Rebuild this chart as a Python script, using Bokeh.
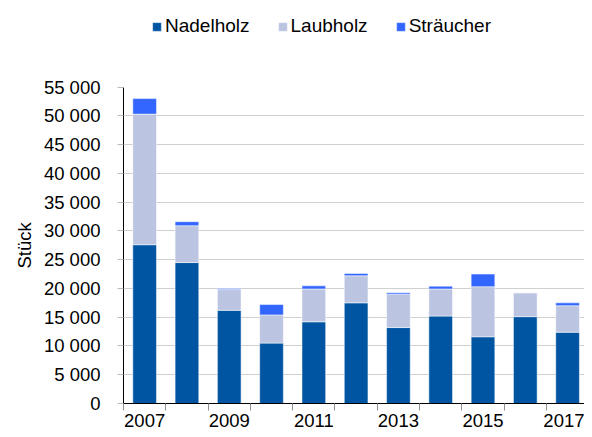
from bokeh.plotting import figure
from bokeh.models import ColumnDataSource, FixedTicker, Legend, LegendItem, Range1d, Title
from bokeh.embed import file_html
from bokeh.resources import INLINE

years = [2007, 2008, 2009, 2010, 2011, 2012, 2013, 2014, 2015, 2016, 2017]
nadelholz = [27600, 24500, 16200, 10500, 14200, 17500, 13200, 15200, 11600, 15100, 12400]
laubholz = [22700, 6400, 3600, 4900, 5700, 4700, 5800, 4700, 8700, 4150, 4600]
straeucher = [2700, 700, 200, 1800, 550, 400, 250, 500, 2200, 0, 500]
series_names = ["Nadelholz", "Laubholz", "Sträucher"]
colors = ["#0055A2", "#BBC5E2", "#3366FF"]
y_ticks = [0, 5000, 10000, 15000, 20000, 25000, 30000, 35000, 40000, 45000, 50000, 55000]
y_tick_labels = ["0", "5 000", "10 000", "15 000", "20 000", "25 000", "30 000",
                 "35 000", "40 000", "45 000", "50 000", "55 000"]
x_tick_labels = ["2007", "", "2009", "", "2011", "", "2013", "", "2015", "", "2017"]
y_title = "Stück"

src = ColumnDataSource(dict(year=years, Nadelholz=nadelholz, Laubholz=laubholz, Sträucher=straeucher))

FONT = "Liberation Sans"
FS = "18.5px"
p = figure(width=584, height=429, output_backend="svg", toolbar_location=None,
           x_range=Range1d(2006.5, 2017.4), y_range=Range1d(0, 70050),
           min_border_left=123, min_border_top=0, min_border_bottom=24, min_border_right=0)
p.outline_line_color = None

rs = p.vbar_stack(series_names, x="year", width=0.56, source=src, color=colors,
                  line_color="white", line_alpha=0.5, line_width=1)

p.xgrid.visible = False
p.ygrid.ticker = FixedTicker(ticks=y_ticks[:-1])
p.ygrid.grid_line_color = "#d0d0d0"

p.yaxis.ticker = FixedTicker(ticks=y_ticks)
p.yaxis.bounds = (0, 55000)
p.yaxis.major_label_overrides = {t: l for t, l in zip(y_ticks, y_tick_labels)}
p.yaxis.minor_tick_line_color = None
p.yaxis.major_tick_out = 6
p.yaxis.major_tick_in = 0
p.yaxis.major_tick_line_color = "#b8b8b8"
p.yaxis.axis_line_color = "black"
p.yaxis.major_label_standoff = 17
p.yaxis.major_label_text_font = FONT
p.yaxis.major_label_text_font_size = FS
p.yaxis.major_label_text_color = "black"

p.add_layout(Title(text=y_title, align="left", offset=135, vertical_align="middle",
                   text_font=FONT, text_font_size=FS, text_font_style="normal",
                   text_color="black"), "left")

boundaries = [y - 0.5 for y in years] + [years[-1] + 0.5]
p.xaxis.ticker = FixedTicker(ticks=years, minor_ticks=boundaries)
p.xaxis.major_label_overrides = {t: l for t, l in zip(years, x_tick_labels)}
p.xaxis.major_tick_out = 0
p.xaxis.major_tick_in = 0
p.xaxis.minor_tick_out = 7
p.xaxis.minor_tick_in = 0
p.xaxis.minor_tick_line_color = "#909090"
p.xaxis.axis_line_color = "black"
p.xaxis.major_label_standoff = 3
p.xaxis.major_label_text_font = FONT
p.xaxis.major_label_text_font_size = FS
p.xaxis.major_label_text_color = "black"

legend = Legend(items=[LegendItem(label=n, renderers=[r]) for n, r in zip(series_names, rs)],
                orientation="horizontal", location=(28, 366),
                padding=0, margin=0, spacing=27, label_standoff=3,
                glyph_width=11, glyph_height=11,
                label_text_font=FONT, label_text_font_size="19px",
                label_text_color="black", background_fill_alpha=0, border_line_color=None)
p.add_layout(legend, "center")

open("out.html", "w").write(file_html(p, INLINE))
